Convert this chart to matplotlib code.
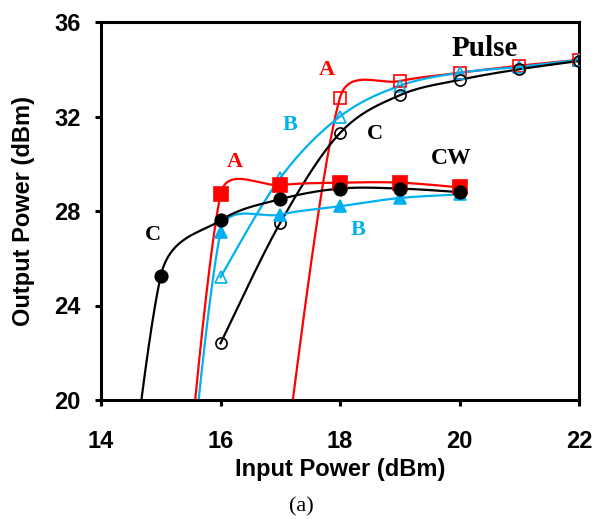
import numpy as np
import matplotlib
matplotlib.use('Agg')
from matplotlib import pyplot as plt

# pulse series (open markers)
pulse_a_x = [17, 18, 19, 20, 21, 22]
pulse_a_y = [16.0, 32.8, 33.5, 33.85, 34.15, 34.4]
pulse_b_x = [16, 17, 18, 19, 20, 21, 22]
pulse_b_y = [25.2, 29.4, 32.0, 33.3, 33.85, 34.1, 34.4]
pulse_c_x = [16, 17, 18, 19, 20, 21, 22]
pulse_c_y = [22.4, 27.5, 31.3, 32.9, 33.55, 34.0, 34.35]

# CW series (filled markers)
cw_a_x = [15, 16, 17, 18, 19, 20]
cw_a_y = [4.0, 28.7, 29.1, 29.2, 29.2, 29.0]
cw_b_x = [15, 16, 17, 18, 19, 20]
cw_b_y = [3.0, 27.1, 27.85, 28.2, 28.55, 28.7]
cw_c_x = [14, 15, 16, 17, 18, 19, 20]
cw_c_y = [5.0, 25.25, 27.6, 28.5, 28.95, 28.95, 28.8]

RED = '#FF0000'
BLUE = '#00B0F0'
BLACK = '#000000'


def smooth(ax, xs, ys, n=60):
    # excel-like smoothed line: bezier segments with limited control points
    pts = ax.transData.transform(np.column_stack([xs, ys]))
    out = [pts[0]]
    t = np.linspace(0, 1, n)[1:][:, None]
    for i in range(len(pts) - 1):
        p0 = pts[i - 1] if i > 0 else pts[i]
        p1 = pts[i]
        p2 = pts[i + 1]
        p3 = pts[i + 2] if i + 2 < len(pts) else pts[i + 1]
        d02 = np.hypot(*(p2 - p0))
        d12 = np.hypot(*(p2 - p1))
        d13 = np.hypot(*(p3 - p1))
        f1 = 1 / 6
        f2 = 1 / 6
        if d02 > 0 and d02 / 6 > d12 / 2:
            f1 = d12 / (2 * d02)
        if d13 > 0 and d13 / 6 > d12 / 2:
            f2 = d12 / (2 * d13)
        c1 = p1 + f1 * (p2 - p0)
        c2 = p2 - f2 * (p3 - p1)
        seg = ((1 - t) ** 3) * p1 + 3 * ((1 - t) ** 2) * t * c1 + 3 * (1 - t) * t ** 2 * c2 + t ** 3 * p2
        out.extend(seg)
    out = ax.transData.inverted().transform(np.array(out))
    return out[:, 0], out[:, 1]


fig = plt.figure(figsize=(5.97, 5.19), dpi=100)
ax = fig.add_axes([101 / 597, 1 - 400 / 519, 478 / 597, 378 / 519])
ax.set_xlim(14, 22)
ax.set_ylim(20, 36)

series = [
    (pulse_a_x, pulse_a_y, RED, 's', 'none', 8.5),
    (pulse_b_x, pulse_b_y, BLUE, '^', 'none', 8.5),
    (pulse_c_x, pulse_c_y, BLACK, 'o', 'none', 8),
    (cw_a_x, cw_a_y, RED, 's', RED, 10),
    (cw_b_x, cw_b_y, BLUE, '^', BLUE, 9),
    (cw_c_x, cw_c_y, BLACK, 'o', BLACK, 9),
]
for xs, ys, col, mk, fc, ms in series:
    sx, sy = smooth(ax, xs, ys)
    ax.plot(sx, sy, color=col, lw=1.6, zorder=2)
    ax.plot(xs, ys, ls='none', marker=mk, ms=ms, mec=col, mfc=fc, mew=1.2, zorder=3)

for x, y, s, c, fs in [(485, 48, 'Pulse', BLACK, 21),
                       (327, 70, 'A', RED, 16), (290, 125, 'B', BLUE, 16), (375, 134, 'C', BLACK, 16),
                       (451, 158, 'CW', BLACK, 17), (235, 162, 'A', RED, 16), (153, 235, 'C', BLACK, 16),
                       (358, 230, 'B', BLUE, 16)]:
    ax.annotate(s, xy=(x / 597, 1 - y / 519), xycoords='figure fraction', color=c,
                ha='center', va='center', family='Liberation Serif', weight='bold', fontsize=fs)

ax.set_xticks([14, 16, 18, 20, 22])
ax.set_yticks([20, 24, 28, 32, 36])
for sp in ax.spines.values():
    sp.set_linewidth(2.2)
ax.tick_params(direction='out', length=4.5, width=2.2)
ax.tick_params(axis='x', pad=17)
ax.tick_params(axis='y', pad=10)
for lab in ax.get_xticklabels() + ax.get_yticklabels():
    lab.set_fontfamily('Liberation Sans')
    lab.set_fontweight('bold')
    lab.set_fontsize(17)
ax.set_xlabel('Input Power (dBm)', fontsize=17, fontweight='bold', family='Liberation Sans', labelpad=4)
ax.set_ylabel('Output Power (dBm)', fontsize=17, fontweight='bold', family='Liberation Sans', labelpad=14)
fig.text(301 / 597, 1 - 507 / 519, '(a)', family='Liberation Serif', fontsize=16, ha='center', va='center')

fig.savefig('out.png', dpi=100)
